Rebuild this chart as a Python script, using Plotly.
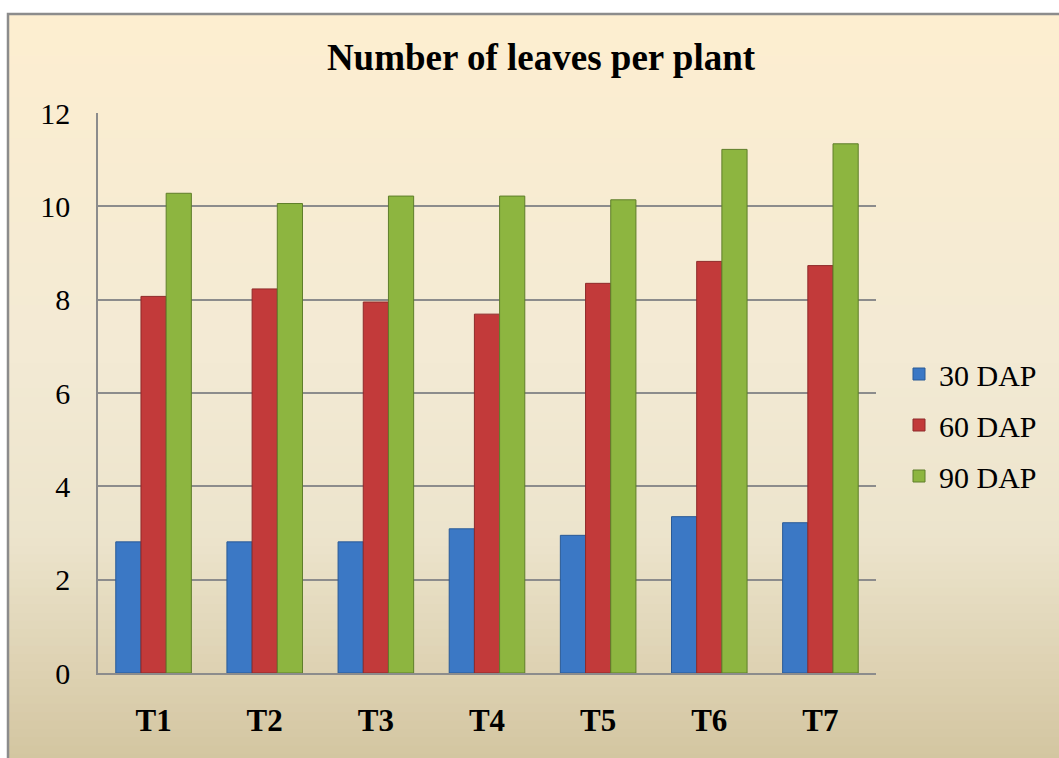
import plotly.graph_objects as go

categories = ["T1", "T2", "T3", "T4", "T5", "T6", "T7"]
dap30 = [2.81, 2.81, 2.81, 3.09, 2.95, 3.35, 3.22]
dap60 = [8.07, 8.23, 7.95, 7.69, 8.35, 8.82, 8.73]
dap90 = [10.28, 10.06, 10.22, 10.22, 10.14, 11.22, 11.34]
series_names = ["30 DAP", "60 DAP", "90 DAP"]
y_ticks = [0, 2, 4, 6, 8, 10, 12]

colors = ["#3B78C5", "#C23A3A", "#8DB540"]
edges = ["#2A5A96", "#8E2A2A", "#5F7E2A"]
SERIF = "Liberation Serif"

W, H = 1059, 758
L, R, T, B = 98, 876, 113, 673

fig = go.Figure()
for i, (name, vals) in enumerate(zip(series_names, [dap30, dap60, dap90])):
    fig.add_trace(go.Bar(
        x=categories, y=vals, name=name,
        legendgroup=name,
        marker=dict(color=colors[i], line=dict(color=edges[i], width=1)),
    ))

def px_to_paper_x(px):
    return (px - L) / (R - L)

def px_to_paper_y(py):
    return (B - py) / (B - T)

def lerp(c1, c2, t):
    return tuple(round(a + (b - a) * t) for a, b in zip(c1, c2))

stops = [(0.0, (253, 238, 208)), (0.45, (243, 234, 212)), (0.7, (236, 228, 204)), (1.0, (211, 197, 160))]
def grad(t):
    for (t0, c0), (t1, c1) in zip(stops[:-1], stops[1:]):
        if t <= t1:
            return lerp(c0, c1, (t - t0) / (t1 - t0))
    return stops[-1][1]

shapes = []
top_px, bot_px = 14, 762
n = 90
for k in range(n):
    y0 = top_px + (bot_px - top_px) * k / n
    y1 = top_px + (bot_px - top_px) * (k + 1) / n + 1
    c = grad((k + 0.5) / n)
    shapes.append(dict(type="rect", xref="paper", yref="paper",
                       x0=px_to_paper_x(8), x1=px_to_paper_x(1080),
                       y0=px_to_paper_y(y1), y1=px_to_paper_y(y0),
                       fillcolor="rgb(%d,%d,%d)" % c, line=dict(width=0), layer="below"))
shapes.append(dict(type="rect", xref="paper", yref="paper",
                   x0=px_to_paper_x(8), x1=px_to_paper_x(1080),
                   y0=px_to_paper_y(770), y1=px_to_paper_y(14),
                   fillcolor="rgba(0,0,0,0)", line=dict(color="#8C8C8C", width=2.5), layer="below"))

fig.update_layout(
    width=W, height=H,
    margin=dict(l=L, r=W - R, t=T, b=H - B, pad=0, autoexpand=False),
    paper_bgcolor="white",
    plot_bgcolor="rgba(0,0,0,0)",
    shapes=shapes,
    barmode="group",
    bargap=0.32,
    bargroupgap=0,
    font=dict(family=SERIF, color="black"),
    title=dict(text="<b>Number of leaves per plant</b>", x=541 / W, xanchor="center",
               y=1 - 57 / H, yanchor="middle",
               font=dict(size=37, family=SERIF, color="black")),
    legend=dict(x=px_to_paper_x(899), xanchor="left", y=px_to_paper_y(425), yanchor="middle",
                font=dict(size=30, family=SERIF, color="black"), bgcolor="rgba(0,0,0,0)",
                traceorder="grouped", tracegroupgap=9, itemwidth=30),
    xaxis=dict(showgrid=False, showline=True, linecolor="#8C8C8C", linewidth=1.5,
               tickfont=dict(size=31, family=SERIF, color="black"),
               tickprefix="<b>", ticksuffix="</b>", ticks="", ticklabelstandoff=19),
    yaxis=dict(range=[0, 12], tickvals=y_ticks, showgrid=True, gridcolor="#8C8C8C", gridwidth=1.5,
               showline=True, linecolor="#8C8C8C", linewidth=1.5, zeroline=False,
               tickfont=dict(size=30, family=SERIF, color="black"),
               ticks="", ticklabelstandoff=20),
)

fig.write_html("out.html", config={"displayModeBar": False},
               post_script="document.body.style.margin='0';document.body.style.overflow='hidden';")
